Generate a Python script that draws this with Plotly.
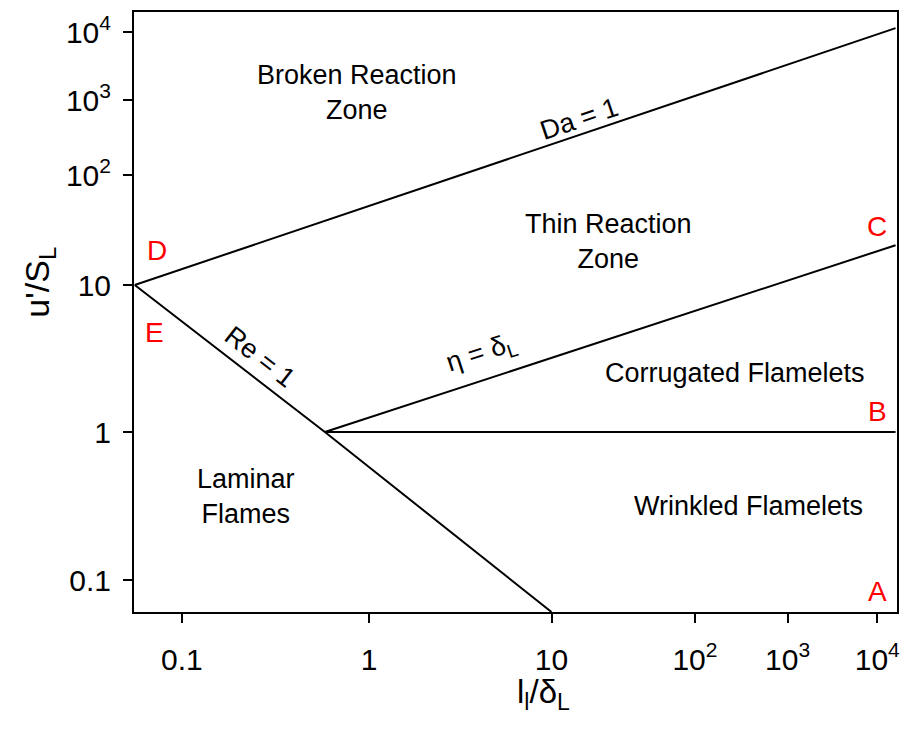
import numpy as np
import plotly.graph_objects as go

# ---------------- data (real units) ----------------
x_tick_vals = [0.1, 1, 10, 100, 1000, 10000]
x_tick_text = ["0.1", "1", "10", "10<sup>2</sup>", "10<sup>3</sup>", "10<sup>4</sup>"]
y_tick_vals = [0.1, 1, 10, 100, 1000, 10000]
y_tick_text = ["0.1", "1", "10", "10<sup>2</sup>", "10<sup>3</sup>", "10<sup>4</sup>"]

x_bounds = [0.0555, 16600]
y_bounds = [0.0608, 19700]

da_x = [0.056, 16000]
da_y = [10, 11400]
re_x = [0.056, 0.58, 10]
re_y = [10, 1, 0.0608]
eta_x = [0.58, 16000]
eta_y = [1, 23]
wr_x = [0.58, 16000]
wr_y = [1, 1]

region_labels = ["Broken Reaction<br>Zone", "Thin Reaction<br>Zone", "Corrugated Flamelets",
                 "Wrinkled Flamelets", "Laminar<br>Flames"]
region_x = [0.86, 24.9, 270, 380, 0.219]
region_y = [1270, 24.8, 2.52, 0.316, 0.364]

line_labels = ["Da = 1", "η = δ<sub>L</sub>", "Re = 1"]
line_label_x = [15.5, 4.15, 0.262]
line_label_y = [560, 3.38, 3.25]
line_label_angle = [-18.6, -18.0, 38.0]

point_labels = ["D", "E", "C", "B", "A"]
point_x = [0.0736, 0.0718, 10000, 10000, 10000]
point_y = [20.8, 4.79, 34, 1.39, 0.083]

x_title = "l<sub>l</sub>/δ<sub>L</sub>"
y_title = "u'/S<sub>L</sub>"

# ---------------- schematic (piecewise-log) scales ----------------
X_LOGS = [-1, 0, 1, 2, 3, 4]
X_POS = [182, 370, 553, 697, 790, 880]
Y_LOGS = [-1, 0, 1, 2, 3, 4]
Y_POS = [580, 432, 285, 175, 100, 32]


def piecewise(v, logs, pos):
    l = np.log10(np.asarray(v, dtype=float))
    out = np.interp(l, logs, pos)
    lo = l < logs[0]
    hi = l > logs[-1]
    s0 = (pos[1] - pos[0]) / (logs[1] - logs[0])
    s1 = (pos[-1] - pos[-2]) / (logs[-1] - logs[-2])
    out = np.where(lo, pos[0] + (l - logs[0]) * s0, out)
    out = np.where(hi, pos[-1] + (l - logs[-1]) * s1, out)
    return out


def sx(v):
    return piecewise(v, X_LOGS, X_POS)


def sy(v):
    return piecewise(v, Y_LOGS, Y_POS)


FONT = "Liberation Sans, Arial, Helvetica, sans-serif"
line_style = dict(color="black", width=2)

fig = go.Figure()
for xs, ys in [(da_x, da_y), (re_x, re_y), (eta_x, eta_y), (wr_x, wr_y)]:
    fig.add_trace(go.Scatter(x=sx(xs), y=sy(ys), mode="lines", line=line_style,
                             showlegend=False, hoverinfo="skip"))

for t, x, y in zip(region_labels, region_x, region_y):
    fig.add_annotation(x=float(sx(x)), y=float(sy(y)), text=t, showarrow=False,
                       font=dict(family=FONT, size=27, color="black"), align="center")

for t, x, y, a in zip(line_labels, line_label_x, line_label_y, line_label_angle):
    fig.add_annotation(x=float(sx(x)), y=float(sy(y)), text=t, showarrow=False, textangle=a,
                       font=dict(family=FONT, size=27, color="black"))

for t, x, y in zip(point_labels, point_x, point_y):
    fig.add_annotation(x=float(sx(x)), y=float(sy(y)), text=t, showarrow=False,
                       font=dict(family=FONT, size=28, color="red"))

# axis titles
fig.add_annotation(xref="paper", yref="paper", x=0.537, y=-0.137, text=x_title,
                   xanchor="center", yanchor="middle",
                   showarrow=False, font=dict(family=FONT, size=33, color="black"))
fig.add_annotation(xref="paper", yref="paper", x=-0.125, y=0.55, text=y_title,
                   xanchor="center", yanchor="middle",
                   showarrow=False, textangle=-90, font=dict(family=FONT, size=34, color="black"))

xr = [float(v) for v in sx(x_bounds)]
yr = [float(v) for v in sy(y_bounds)]

fig.update_layout(
    width=904, height=729,
    margin=dict(l=134, r=4, t=12, b=117),
    plot_bgcolor="white", paper_bgcolor="white",
    font=dict(family=FONT, size=30, color="black"),
    xaxis=dict(range=xr, tickvals=list(sx(x_tick_vals)), ticktext=x_tick_text,
               ticks="outside", ticklen=9, tickwidth=2, tickcolor="black",
               showline=True, mirror=True, linewidth=2, linecolor="black",
               showgrid=False, zeroline=False, ticklabelstandoff=11,
               tickfont=dict(family=FONT, size=30)),
    yaxis=dict(range=yr, tickvals=list(sy(y_tick_vals)), ticktext=y_tick_text,
               ticks="outside", ticklen=9, tickwidth=2, tickcolor="black",
               showline=True, mirror=True, linewidth=2, linecolor="black",
               showgrid=False, zeroline=False, ticklabelstandoff=6,
               tickfont=dict(family=FONT, size=30)),
)

fig.write_html("out.html")
